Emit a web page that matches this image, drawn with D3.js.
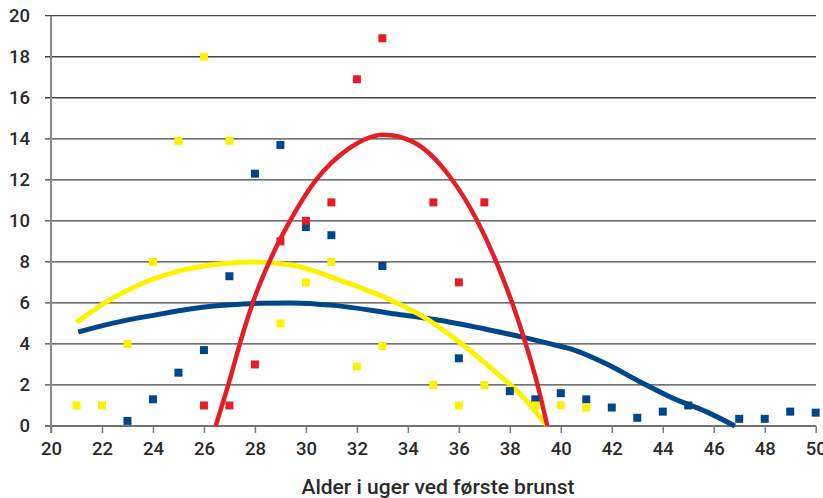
<!DOCTYPE html>
<html>
<head>
<meta charset="utf-8">
<script src="https://cdn.jsdelivr.net/npm/d3@7"></script>
<style>
  html, body { margin: 0; padding: 0; background: #fff; }
  svg { display: block; }
  text { font-family: Roboto, "Noto Sans", sans-serif; fill: #2a2a2a; }
</style>
</head>
<body>
<svg id="chart" width="823" height="498"></svg>
<script>
// Tick labels
const xTicks = [20, 22, 24, 26, 28, 30, 32, 34, 36, 38, 40, 42, 44, 46, 48, 50];
const yTicks = [0, 2, 4, 6, 8, 10, 12, 14, 16, 18, 20];
const xTitle = "Alder i uger ved første brunst";

// Observations: week of first heat -> share
const yellowWeeks = [21, 22, 23, 24, 25, 26, 27, 29, 30, 31, 32, 33, 35, 36, 37, 39, 40, 41];
const yellowValues = [1, 1, 4, 8, 13.9, 18, 13.9, 5, 7, 8, 2.9, 3.9, 2, 1, 2, 1, 1, 0.9];

const blueWeeks = [23, 24, 25, 26, 27, 28, 29, 30, 31, 33, 36, 38, 39, 40, 41, 42, 43, 44, 45, 47, 48, 49, 50];
const blueValues = [0.25, 1.3, 2.6, 3.7, 7.3, 12.3, 13.7, 9.7, 9.3, 7.8, 3.3, 1.7, 1.3, 1.6, 1.3, 0.9, 0.4, 0.7, 1.0, 0.35, 0.35, 0.7, 0.65];

const redWeeks = [26, 27, 28, 29, 30, 31, 32, 33, 35, 36, 37];
const redValues = [1, 1, 3, 9, 10, 10.9, 16.9, 18.9, 10.9, 7, 10.9];

// Trend curves (week, value)
const blueTrendWeeks = [21.07, 22.3, 24.3, 26.2, 28.2, 29.4, 31.1, 33.3, 35.3, 37.2, 38.5, 39.6, 40.5, 41.8, 43.1, 44.4, 45.7, 46.83];
const blueTrendValues = [4.58, 4.98, 5.46, 5.82, 5.98, 6.0, 5.88, 5.5, 5.14, 4.68, 4.33, 4.0, 3.71, 3.02, 2.16, 1.35, 0.7, 0];

const yellowTrendWeeks = [21.0, 22.3, 23.6, 25.2, 26.6, 27.9, 29.5, 31.3, 33.3, 34.6, 35.9, 37.2, 38.5, 39.47];
const yellowTrendValues = [5.05, 6.15, 6.96, 7.61, 7.9, 8.0, 7.84, 7.12, 6.15, 5.33, 4.2, 2.89, 1.43, 0];

const redTrendWeeks = [26.46, 27.0, 27.5, 28.0, 28.6, 29.4, 30.4, 31.6, 33.05, 34.2, 35.65, 36.7, 37.5, 38.15, 38.65, 39.1, 39.47];
const redTrendValues = [0, 2.2, 4.4, 6.3, 8.1, 10.05, 12.0, 13.45, 14.2, 13.85, 12.15, 10.05, 7.9, 5.8, 3.9, 1.95, 0];

const colors = { blue: "#00478a", yellow: "#fff200", red: "#e31e25" };

const svg = d3.select("#chart");
const x = d3.scaleLinear().domain([20, 50]).range([51, 815.7]);
const y = d3.scaleLinear().domain([0, 20]).range([426, 15.7]);

// Horizontal grid
svg.append("g")
  .selectAll("line")
  .data(yTicks)
  .join("line")
  .attr("x1", 45).attr("x2", 816)
  .attr("y1", d => y(d)).attr("y2", d => y(d))
  .attr("stroke", "#444").attr("stroke-width", 1.3);

// Vertical axis line
svg.append("line")
  .attr("x1", x(20)).attr("x2", x(20))
  .attr("y1", y(20)).attr("y2", y(0) + 7)
  .attr("stroke", "#8a8a8a").attr("stroke-width", 2);

// X axis
const xAxis = svg.append("g")
  .attr("transform", `translate(0,${y(0)})`)
  .call(d3.axisBottom(x).tickValues(xTicks).tickSize(7).tickSizeOuter(0).tickFormat(d3.format("d")));
xAxis.select(".domain").remove();
xAxis.selectAll(".tick line").attr("stroke", "#7a7a7a").attr("stroke-width", 1.5);
xAxis.selectAll(".tick text")
  .attr("y", 16).attr("dy", "0.71em")
  .style("font-family", "Roboto, 'Noto Sans', sans-serif")
  .style("font-size", "18.5px").style("font-weight", 500).attr("fill", "#2a2a2a");

// Y axis labels
const yAxis = svg.append("g")
  .attr("transform", `translate(${x(20)},0)`)
  .call(d3.axisLeft(y).tickValues(yTicks).tickSize(0).tickPadding(21).tickFormat(d3.format("d")));
yAxis.select(".domain").remove();
yAxis.selectAll(".tick text")
  .style("font-family", "Roboto, 'Noto Sans', sans-serif")
  .style("font-size", "18.5px").style("font-weight", 500).attr("fill", "#2a2a2a");

// Axis title
svg.append("text")
  .attr("x", 438).attr("y", 494)
  .attr("text-anchor", "middle")
  .style("font-size", "21px").style("font-weight", 500)
  .text(xTitle);

// Markers
const ms = 8;
function markers(weeks, values, color) {
  svg.append("g")
    .selectAll("rect")
    .data(d3.zip(weeks, values))
    .join("rect")
    .attr("x", d => x(d[0]) - ms / 2)
    .attr("y", d => y(d[1]) - ms / 2)
    .attr("width", ms).attr("height", ms)
    .attr("fill", color);
}

// Trend curves
function trend(weeks, values, color, width) {
  const line = d3.line()
    .x(d => x(d[0]))
    .y(d => y(d[1]))
    .curve(d3.curveMonotoneX);
  svg.append("path")
    .datum(d3.zip(weeks, values))
    .attr("d", line)
    .attr("fill", "none")
    .attr("stroke", color)
    .attr("stroke-width", width)
    .attr("stroke-linecap", "butt");
}

trend(blueTrendWeeks, blueTrendValues, colors.blue, 5);
trend(yellowTrendWeeks, yellowTrendValues, colors.yellow, 5);
trend(redTrendWeeks, redTrendValues, colors.red, 4.5);

markers(blueWeeks, blueValues, colors.blue);
markers(yellowWeeks, yellowValues, colors.yellow);
markers(redWeeks, redValues, colors.red);
</script>
</body>
</html>
